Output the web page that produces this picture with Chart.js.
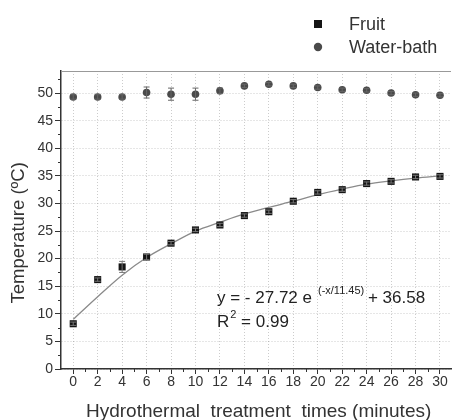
<!DOCTYPE html>
<html>
<head>
<meta charset="utf-8">
<script src="https://cdn.jsdelivr.net/npm/chart.js@4.4.0/dist/chart.umd.min.js"></script>
<style>
    html, body { margin: 0; padding: 0; background: #fff; }
    #wrap { width: 456px; height: 420px; }
</style>
</head>
<body>
<div id="wrap"><canvas id="chart" width="456" height="420"></canvas></div>
<script>
/* Temperature vs hydrothermal treatment time */
const times = [0, 2, 4, 6, 8, 10, 12, 14, 16, 18, 20, 22, 24, 26, 28, 30];
const fruitTemp = [8.2, 16.2, 18.5, 20.3, 22.8, 25.2, 26.1, 27.8, 28.5, 30.4, 32.0, 32.5, 33.6, 34.0, 34.8, 34.9];
const fruitErr = [0.3, 0.3, 1.0, 0.5, 0.3, 0.3, 0.3, 0.3, 0.3, 0.3, 0.3, 0.3, 0.3, 0.3, 0.3, 0.3];
const bathTemp = [49.3, 49.3, 49.3, 50.1, 49.8, 49.8, 50.4, 51.3, 51.6, 51.3, 51.0, 50.6, 50.5, 50.0, 49.7, 49.6];
const bathErr = [0.4, 0.4, 0.4, 1.0, 1.1, 1.1, 0.5, 0.3, 0.3, 0.3, 0.3, 0.3, 0.3, 0.3, 0.3, 0.3];
const fitTemp = [9.0, 13.1, 17.0, 20.2, 22.7, 25.0, 26.6, 28.1, 29.3, 30.4, 31.6, 32.6, 33.5, 34.1, 34.6, 35.0];
const xTicks = [0, 2, 4, 6, 8, 10, 12, 14, 16, 18, 20, 22, 24, 26, 28, 30];
const yTicks = [0, 5, 10, 15, 20, 25, 30, 35, 40, 45, 50];
const seriesNames = ['Fruit', 'Water-bath'];
const fitLabel = ['y = - 27.72 e', '(-x/11.45)', ' + 36.58'];
const r2Label = ['R', '2', ' = 0.99'];

const FONT = "'Liberation Sans', Arial, sans-serif";
const TEXT = '#333';

const toPoints = (ys) => times.map((t, i) => ({ x: t, y: ys[i] }));

// error bars, drawn through the scales
const errorBars = {
    id: 'errorBars',
    afterDatasetsDraw(chart) {
        const { ctx, scales: { x, y } } = chart;
        chart.data.datasets.forEach((ds) => {
            if (!ds.errors) return;
            ctx.save();
            ctx.strokeStyle = ds.errColor;
            ctx.lineWidth = 1;
            ds.data.forEach((p, i) => {
                const px = x.getPixelForValue(p.x);
                const top = y.getPixelForValue(p.y + ds.errors[i]);
                const bot = y.getPixelForValue(p.y - ds.errors[i]);
                ctx.beginPath();
                ctx.moveTo(px, top); ctx.lineTo(px, bot);
                ctx.moveTo(px - 3, top); ctx.lineTo(px + 3, top);
                ctx.moveTo(px - 3, bot); ctx.lineTo(px + 3, bot);
                ctx.stroke();
            });
            ctx.restore();
        });
    }
};

// top frame line and minor ticks
const frame = {
    id: 'frame',
    afterDraw(chart) {
        const { ctx, chartArea: a, scales: { x, y } } = chart;
        ctx.save();
        ctx.strokeStyle = '#999';
        ctx.lineWidth = 1;
        ctx.beginPath();
        ctx.moveTo(a.left, a.top + 0.5); ctx.lineTo(a.right, a.top + 0.5);
        ctx.stroke();
        ctx.strokeStyle = '#333';
        ctx.beginPath();
        for (let i = 0; i < xTicks.length - 1; i++) {
            const px = Math.round(x.getPixelForValue((xTicks[i] + xTicks[i + 1]) / 2)) + 0.5;
            ctx.moveTo(px, a.bottom); ctx.lineTo(px, a.bottom + 3);
        }
        for (let i = 0; i < yTicks.length; i++) {
            const v = yTicks[i] + 2.5;
            if (v > y.max) break;
            const py = Math.round(y.getPixelForValue(v)) + 0.5;
            ctx.moveTo(a.left, py); ctx.lineTo(a.left - 3, py);
        }
        ctx.stroke();
        ctx.restore();
    }
};

// legend in the top right corner, from the dataset labels
const cornerLegend = {
    id: 'cornerLegend',
    afterDraw(chart) {
        const { ctx } = chart;
        ctx.save();
        ctx.font = '18px ' + FONT;
        ctx.textBaseline = 'middle';
        chart.data.datasets.slice(0, 2).forEach((ds, i) => {
            const cy = 24 + i * 23;
            ctx.fillStyle = ds.backgroundColor;
            if (ds.pointStyle === 'rect') ctx.fillRect(314, cy - 4, 8, 8);
            else { ctx.beginPath(); ctx.arc(318, cy, 4.2, 0, Math.PI * 2); ctx.fill(); }
            ctx.fillStyle = TEXT;
            ctx.fillText(ds.label, 349, cy + 1);
        });
        ctx.restore();
    }
};

// fit equation
const equation = {
    id: 'equation',
    afterDraw(chart) {
        const { ctx } = chart;
        ctx.save();
        ctx.fillStyle = '#222';
        ctx.textBaseline = 'alphabetic';
        const big = '17px ' + FONT, small = '11px ' + FONT;
        let x0 = 217;
        ctx.font = big; ctx.fillText(fitLabel[0], x0, 303);
        x0 += ctx.measureText(fitLabel[0]).width + 6;
        ctx.font = small; ctx.fillText(fitLabel[1], x0, 294);
        x0 += ctx.measureText(fitLabel[1]).width - 1;
        ctx.font = big; ctx.fillText(fitLabel[2], x0, 303);

        x0 = 217;
        ctx.font = big; ctx.fillText(r2Label[0], x0, 327);
        x0 += ctx.measureText(r2Label[0]).width + 1;
        ctx.font = small; ctx.fillText(r2Label[1], x0, 318);
        x0 += ctx.measureText(r2Label[1]).width;
        ctx.font = big; ctx.fillText(r2Label[2], x0, 327);
        ctx.restore();
    }
};

new Chart(document.getElementById('chart'), {
    type: 'scatter',
    data: {
        datasets: [
            {
                label: seriesNames[0],
                data: toPoints(fruitTemp),
                errors: fruitErr,
                errColor: '#777',
                pointStyle: 'rect',
                pointRadius: 5,
                backgroundColor: '#151515',
                borderColor: '#151515',
                borderWidth: 0,
                order: 1
            },
            {
                label: seriesNames[1],
                data: toPoints(bathTemp),
                errors: bathErr,
                errColor: '#666',
                pointStyle: 'circle',
                pointRadius: 3.8,
                backgroundColor: '#4a4a4a',
                borderColor: '#4a4a4a',
                borderWidth: 0,
                order: 1
            },
            {
                label: 'fit',
                type: 'line',
                data: toPoints(fitTemp),
                borderColor: '#8a8a8a',
                borderWidth: 1.3,
                pointRadius: 0,
                cubicInterpolationMode: 'monotone',
                fill: false,
                order: 2
            }
        ]
    },
    options: {
        responsive: false,
        animation: false,
        layout: { padding: { top: 71, right: 0, left: 0, bottom: 0 } },
        plugins: {
            legend: { display: false },
            tooltip: { enabled: false }
        },
        scales: {
            x: {
                type: 'linear',
                min: -1,
                max: 30.9,
                afterBuildTicks: (s) => { s.ticks = xTicks.map(v => ({ value: v })); },
                afterFit: (s) => { s.height = 51; },
                grid: { color: 'rgba(0,0,0,0.2)', lineWidth: 1, tickColor: '#333', tickLength: 5, tickWidth: 1 },
                border: { display: true, color: '#333', width: 1.5, dash: [1, 2] },
                ticks: { color: TEXT, font: { family: FONT, size: 14 }, padding: 0, maxRotation: 0 },
                title: {
                    display: true,
                    text: ' Hydrothermal  treatment  times (minutes)',
                    color: TEXT,
                    font: { family: FONT, size: 19, lineHeight: 1 },
                    padding: { top: 0, bottom: -1 }
                }
            },
            y: {
                min: 0,
                max: 54,
                afterBuildTicks: (s) => { s.ticks = yTicks.map(v => ({ value: v })); },
                afterFit: (s) => { s.width = 61; },
                grid: { color: 'rgba(0,0,0,0.2)', lineWidth: 1, tickColor: '#333', tickLength: 6, tickWidth: 1 },
                border: { display: true, color: '#333', width: 1.5, dash: [1, 2] },
                ticks: { color: TEXT, font: { family: FONT, size: 14 }, padding: 2 },
                title: {
                    display: true,
                    text: 'Temperature (ºC)     ',
                    color: TEXT,
                    font: { family: FONT, size: 18.5, lineHeight: 1.2 },
                    padding: { top: 8, bottom: 0 }
                }
            }
        }
    },
    plugins: [errorBars, frame, cornerLegend, equation]
});
</script>
</body>
</html>
